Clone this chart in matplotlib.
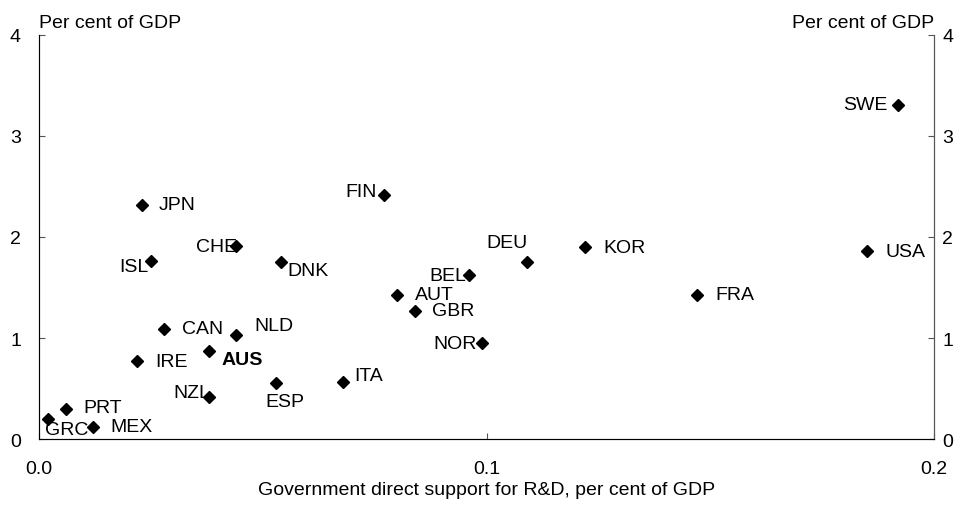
import matplotlib.pyplot as plt

plt.rcParams['font.family'] = ['Liberation Sans', 'DejaVu Sans']

countries = ["SWE", "USA", "FRA", "KOR", "DEU", "BEL", "NOR", "GBR", "AUT", "FIN",
             "ITA", "ESP", "DNK", "NLD", "CHE", "AUS", "NZL", "CAN", "JPN", "ISL",
             "IRE", "PRT", "MEX", "GRC"]
gov_support = [0.192, 0.185, 0.147, 0.122, 0.109, 0.096, 0.099, 0.084, 0.080, 0.077,
               0.068, 0.053, 0.054, 0.044, 0.044, 0.038, 0.038, 0.028, 0.023, 0.025,
               0.022, 0.006, 0.012, 0.002]
business_rd = [3.31, 1.86, 1.43, 1.90, 1.75, 1.62, 0.95, 1.27, 1.43, 2.42,
               0.56, 0.55, 1.75, 1.03, 1.91, 0.87, 0.42, 1.09, 2.32, 1.76,
               0.77, 0.30, 0.12, 0.20]
y_ticks = [0, 1, 2, 3, 4]

# label offsets in points (dx, dy) and horizontal alignment
label_pos = {
    "SWE": (-8, 0, "right"), "USA": (13, 0, "left"), "FRA": (13, 0, "left"),
    "KOR": (13, 0, "left"), "DEU": (-14, 14, "center"), "BEL": (-2, 0, "right"),
    "NOR": (-4, 0, "right"), "GBR": (12, 0, "left"), "AUT": (13, 0, "left"),
    "FIN": (-5, 2, "right"), "ITA": (8, 5, "left"), "ESP": (6, -13, "center"),
    "DNK": (5, -6, "left"), "NLD": (13, 7, "left"), "CHE": (1, 0, "right"),
    "AUS": (9, -6, "left"), "NZL": (1, 3, "right"), "CAN": (13, 0, "left"),
    "JPN": (12, 0, "left"), "ISL": (-2, -4, "right"), "IRE": (13, 0, "left"),
    "PRT": (13, 1, "left"), "MEX": (13, 0, "left"), "GRC": (-2, -8, "left"),
}

fs = 14
grey = "#555555"

fig = plt.figure(figsize=(9.62, 5.06), dpi=100)
ax = fig.add_axes([0.0405, 0.1304, 0.9305, 0.7985])

ax.plot(gov_support, business_rd, linestyle="none", marker="D", markersize=6.5,
        color="black")

for c, x, y in zip(countries, gov_support, business_rd):
    dx, dy, ha = label_pos[c]
    ax.annotate(c, (x, y), xytext=(dx, dy), textcoords="offset points",
                ha=ha, va="center", fontsize=fs,
                fontweight="bold" if c == "AUS" else "normal")

ax.set_xlim(0, 0.2)
ax.set_ylim(0, 4)
ax.set_xticks([0, 0.1, 0.2])
ax.set_xticklabels(["0.0", "0.1", "0.2"])
ax.set_yticks(y_ticks)

ax.spines["top"].set_visible(False)
for s in ["left", "right", "bottom"]:
    ax.spines[s].set_color(grey)
ax.tick_params(axis="both", direction="in", length=4, color=grey, labelsize=fs)
ax.tick_params(axis="y", pad=13)
ax.tick_params(axis="x", pad=15)

# right hand axis
ax2 = ax.twinx()
ax2.set_ylim(0, 4)
ax2.set_yticks(y_ticks)
ax2.spines["top"].set_visible(False)
ax2.spines["right"].set_color(grey)
ax2.tick_params(axis="y", direction="in", length=4, color=grey, labelsize=fs, pad=6)

ax.set_xlabel("Government direct support for R&D, per cent of GDP", fontsize=fs,
              labelpad=3)
ax.text(0, 1.01, "Per cent of GDP", transform=ax.transAxes, fontsize=fs,
        ha="left", va="bottom")
ax.text(1, 1.01, "Per cent of GDP", transform=ax.transAxes, fontsize=fs,
        ha="right", va="bottom")

fig.savefig("out.png", dpi=100)
